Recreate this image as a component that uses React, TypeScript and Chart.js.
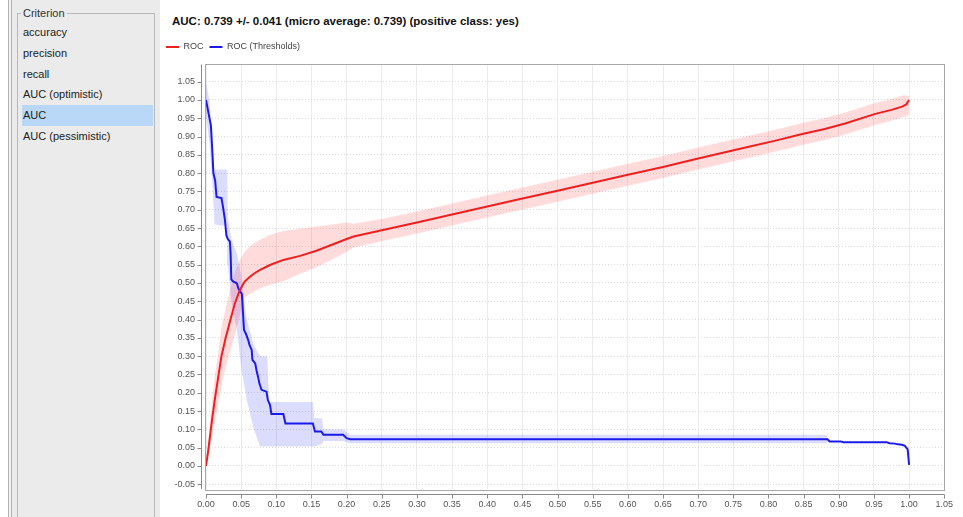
import { useEffect, useRef } from "react";
import { Chart, registerables } from "chart.js";

Chart.register(...registerables);

const criteria = ["accuracy", "precision", "recall", "AUC (optimistic)", "AUC", "AUC (pessimistic)"];
const selectedCriterion = "AUC";
const groupTitle = "Criterion";
const titleText = "AUC: 0.739 +/- 0.041 (micro average: 0.739) (positive class: yes)";
const seriesLabels = ["ROC", "ROC (Thresholds)"];

const xTicks = [0, 0.05, 0.1, 0.15, 0.2, 0.25, 0.3, 0.35, 0.4, 0.45, 0.5, 0.55, 0.6, 0.65, 0.7, 0.75, 0.8, 0.85, 0.9, 0.95, 1.0, 1.05];
const yTicks = [-0.05, 0, 0.05, 0.1, 0.15, 0.2, 0.25, 0.3, 0.35, 0.4, 0.45, 0.5, 0.55, 0.6, 0.65, 0.7, 0.75, 0.8, 0.85, 0.9, 0.95, 1.0, 1.05];

// ROC curve (false positive rate -> true positive rate), with +/- std band
const rocX = [0, 0.0033, 0.008, 0.0128, 0.0175, 0.022, 0.028, 0.034, 0.041, 0.048, 0.055, 0.0625, 0.07, 0.077, 0.091, 0.11, 0.134, 0.157, 0.18, 0.2, 0.21, 0.25, 0.3, 0.35, 0.4, 0.45, 0.5, 0.55, 0.6, 0.65, 0.7, 0.772, 0.81, 0.848, 0.88, 0.909, 0.952, 0.975, 0.99, 0.996, 1.0];
const rocY = [0, 0.044, 0.117, 0.185, 0.244, 0.3, 0.35, 0.394, 0.444, 0.48, 0.504, 0.517, 0.528, 0.536, 0.549, 0.563, 0.574, 0.588, 0.605, 0.62, 0.627, 0.644, 0.665, 0.687, 0.709, 0.731, 0.752, 0.774, 0.796, 0.817, 0.84, 0.872, 0.889, 0.907, 0.921, 0.936, 0.962, 0.973, 0.982, 0.988, 1.0];
const rocUpper = [0, 0.07, 0.17, 0.25, 0.31, 0.38, 0.43, 0.48, 0.53, 0.563, 0.585, 0.6, 0.61, 0.618, 0.632, 0.642, 0.648, 0.654, 0.66, 0.665, 0.662, 0.675, 0.695, 0.717, 0.739, 0.761, 0.782, 0.804, 0.826, 0.847, 0.87, 0.902, 0.919, 0.937, 0.951, 0.966, 0.992, 1.003, 1.012, 1.012, 1.01];
const rocLower = [0, 0.02, 0.07, 0.12, 0.17, 0.22, 0.27, 0.31, 0.36, 0.41, 0.46, 0.47, 0.478, 0.485, 0.495, 0.505, 0.525, 0.543, 0.565, 0.585, 0.597, 0.614, 0.635, 0.657, 0.679, 0.701, 0.722, 0.744, 0.766, 0.787, 0.81, 0.842, 0.859, 0.877, 0.891, 0.906, 0.932, 0.943, 0.952, 0.956, 0.96];

// ROC (Thresholds) curve
const thrX = [0, 0.004, 0.007, 0.009, 0.0105, 0.013, 0.015, 0.022, 0.024, 0.027, 0.029, 0.031, 0.034, 0.035, 0.036, 0.038, 0.044, 0.046, 0.051, 0.052, 0.054, 0.057, 0.06, 0.062, 0.065, 0.066, 0.07, 0.072, 0.074, 0.076, 0.079, 0.086, 0.088, 0.091, 0.093, 0.11, 0.113, 0.152, 0.155, 0.164, 0.167, 0.195, 0.2, 0.205, 0.884, 0.887, 0.903, 0.906, 0.968, 0.972, 0.98, 0.984, 0.99, 0.994, 0.998, 1.0];
const thrY = [1.0, 0.96, 0.93, 0.86, 0.8, 0.78, 0.735, 0.732, 0.71, 0.672, 0.63, 0.62, 0.613, 0.58, 0.51, 0.505, 0.499, 0.485, 0.47, 0.44, 0.372, 0.36, 0.344, 0.33, 0.317, 0.29, 0.28, 0.26, 0.244, 0.225, 0.208, 0.203, 0.18, 0.167, 0.142, 0.142, 0.116, 0.116, 0.094, 0.094, 0.085, 0.085, 0.076, 0.073, 0.073, 0.067, 0.067, 0.065, 0.065, 0.062, 0.061, 0.059, 0.058, 0.055, 0.045, 0.003];
const thrBandX = [0, 0.005, 0.01, 0.012, 0.03, 0.031, 0.036, 0.044, 0.05, 0.058, 0.068, 0.077, 0.087, 0.09, 0.152, 0.154, 0.165, 0.167, 0.195, 0.205, 0.884];
const thrUpper = [1.045, 1.0, 0.86, 0.81, 0.81, 0.68, 0.62, 0.58, 0.52, 0.4, 0.33, 0.3, 0.3, 0.175, 0.175, 0.13, 0.13, 0.1, 0.1, 0.085, 0.085];
const thrLower = [0.96, 0.88, 0.74, 0.66, 0.655, 0.55, 0.45, 0.37, 0.27, 0.18, 0.1, 0.053, 0.053, 0.053, 0.053, 0.053, 0.06, 0.068, 0.068, 0.062, 0.062];

const FONT = "'Liberation Sans', Arial, sans-serif";

const pts = (xs: number[], ys: number[]) => xs.map((x, i) => ({ x, y: ys[i] }));

export default function App() {
  const canvasRef = useRef<HTMLCanvasElement | null>(null);

  useEffect(() => {
    if (!canvasRef.current) return;
    Chart.defaults.font.family = FONT;

    const frameAxes = {
      id: "frameAxes",
      beforeLayout(chart: any) {
        const lg = chart.legend;
        if (lg && !lg.__patched) {
          const f = lg.fit;
          lg.fit = function () {
            f.call(this);
            this.height += 3;
          };
          lg.__patched = true;
        }
      },
      beforeDatasetsDraw(chart: any) {
        const { ctx, chartArea: a } = chart;
        ctx.save();
        ctx.strokeStyle = "#a8a8a8";
        ctx.lineWidth = 1;
        ctx.strokeRect(Math.round(a.left) - 0.5, Math.round(a.top) - 0.5, Math.round(a.right - a.left) + 1, Math.round(a.bottom - a.top) + 1);
        ctx.restore();
      },
      afterDraw(chart: any) {
        const { ctx, chartArea: a, scales } = chart;
        ctx.save();
        ctx.strokeStyle = "#8a8a8a";
        ctx.lineWidth = 1;
        const ax = Math.round(a.left) - 4.5;
        ctx.beginPath();
        ctx.moveTo(ax, a.top);
        ctx.lineTo(ax, a.bottom);
        for (const t of scales.y.ticks) {
          const py = Math.round(scales.y.getPixelForValue(t.value)) + 0.5;
          ctx.moveTo(ax - 4, py);
          ctx.lineTo(ax, py);
        }
        const ay = Math.round(a.bottom) + 5.5;
        ctx.moveTo(a.left, ay);
        ctx.lineTo(a.right, ay);
        for (const t of scales.x.ticks) {
          const px = Math.round(scales.x.getPixelForValue(t.value)) + 0.5;
          ctx.moveTo(px, ay);
          ctx.lineTo(px, ay + 4);
        }
        ctx.stroke();
        ctx.restore();
      },
    };

    const chart = new Chart(canvasRef.current, {
      type: "line",
      data: {
        datasets: [
          {
            label: seriesLabels[0],
            data: pts(rocX, rocY),
            borderColor: "#ee2020",
            backgroundColor: "#ee2020",
            borderWidth: 2,
            pointRadius: 0,
            fill: false,
          },
          {
            label: seriesLabels[1],
            data: pts(thrX, thrY),
            borderColor: "#1a1aee",
            backgroundColor: "#1a1aee",
            borderWidth: 2,
            pointRadius: 0,
            fill: false,
          },
          {
            label: "roc-upper",
            data: pts(rocX, rocUpper),
            borderWidth: 0,
            borderColor: "rgba(0,0,0,0)",
            backgroundColor: "rgba(255,40,40,0.17)",
            pointRadius: 0,
            fill: "+1",
          },
          {
            label: "roc-lower",
            data: pts(rocX, rocLower),
            borderWidth: 0,
            borderColor: "rgba(0,0,0,0)",
            pointRadius: 0,
            fill: false,
          },
          {
            label: "thr-upper",
            data: pts(thrBandX, thrUpper),
            borderWidth: 0,
            borderColor: "rgba(0,0,0,0)",
            backgroundColor: "rgba(40,40,255,0.16)",
            pointRadius: 0,
            fill: "+1",
          },
          {
            label: "thr-lower",
            data: pts(thrBandX, thrLower),
            borderWidth: 0,
            borderColor: "rgba(0,0,0,0)",
            pointRadius: 0,
            fill: false,
          },
        ],
      },
      options: {
        animation: false,
        responsive: false,
        layout: { padding: { left: 0, right: 17, top: 6.5, bottom: 0 } },
        elements: { line: { tension: 0 } },
        plugins: {
          tooltip: { enabled: false },
          title: { display: false },
          legend: {
            display: true,
            position: "top",
            align: "start",
            labels: {
              usePointStyle: true,
              pointStyle: "line",
              pointStyleWidth: 13,
              padding: 6,
              color: "#444",
              font: { size: 9, family: FONT },
              filter: (item: any) => item.datasetIndex < 2,
            },
          },
        },
        scales: {
          x: {
            type: "linear",
            min: 0,
            max: 1.05,
            afterBuildTicks: (s: any) => {
              s.ticks = xTicks.map((v) => ({ value: v }));
            },
            afterFit: (s: any) => {
              s.height = 28;
            },
            ticks: {
              autoSkip: false,
              maxRotation: 0,
              padding: 10,
              color: "#555",
              font: { size: 9, family: FONT },
              callback: (v: any) => Number(v).toFixed(2),
            },
            grid: { color: "#ececec", drawTicks: false },
            border: { display: false },
          },
          y: {
            type: "linear",
            min: -0.063,
            max: 1.097,
            afterBuildTicks: (s: any) => {
              s.ticks = yTicks.map((v) => ({ value: v }));
            },
            afterFit: (s: any) => {
              s.width = 46;
            },
            ticks: {
              autoSkip: false,
              padding: 11,
              color: "#555",
              font: { size: 9, family: FONT },
              callback: (v: any) => Number(v).toFixed(2),
            },
            grid: { color: "#dcdcdc", drawTicks: false, borderDash: [1, 2] } as any,
            border: { display: false, dash: [1, 2] },
          },
        },
      },
      plugins: [frameAxes],
    });
    return () => chart.destroy();
  }, []);

  return (
    <div style={{ position: "absolute", left: 0, top: 0, width: 963, height: 517, background: "#fff", fontFamily: FONT, overflow: "hidden" }}>
      {/* left criterion panel */}
      <div style={{ position: "absolute", left: 8, top: 0, width: 1, height: 517, background: "#b4b4b4" }} />
      <div style={{ position: "absolute", left: 9, top: 0, width: 2, height: 517, background: "#f2f2f2" }} />
      <div style={{ position: "absolute", left: 11, top: 0, width: 1, height: 517, background: "#b4b4b4" }} />
      <div style={{ position: "absolute", left: 12, top: 0, width: 148, height: 517, background: "#ebebeb" }} />
      <div style={{ position: "absolute", left: 17, top: 13, width: 138, height: 520, border: "1px solid #b8b8b8", boxSizing: "border-box" }} />
      <div style={{ position: "absolute", left: 21, top: 6, padding: "0 2px", background: "#ebebeb", fontSize: 11, lineHeight: "14px", color: "#333" }}>{groupTitle}</div>
      {criteria.map((c, i) => (
        <div
          key={c}
          style={{
            position: "absolute",
            left: 22,
            top: 22 + i * 20.8,
            width: 131,
            height: 21,
            background: c === selectedCriterion ? "#b9d7f6" : "transparent",
            fontSize: 11,
            lineHeight: "21px",
            color: "#222",
            paddingLeft: 1,
            boxSizing: "border-box",
          }}
        >
          {c}
        </div>
      ))}
      {/* title */}
      <div style={{ position: "absolute", left: 172, top: 15, fontSize: 11.5, fontWeight: "bold", lineHeight: "13px", color: "#111", whiteSpace: "nowrap" }}>{titleText}</div>
      {/* chart */}
      <canvas ref={canvasRef} width={803} height={487} style={{ position: "absolute", left: 160, top: 30, width: 803, height: 487 }} />
    </div>
  );
}
